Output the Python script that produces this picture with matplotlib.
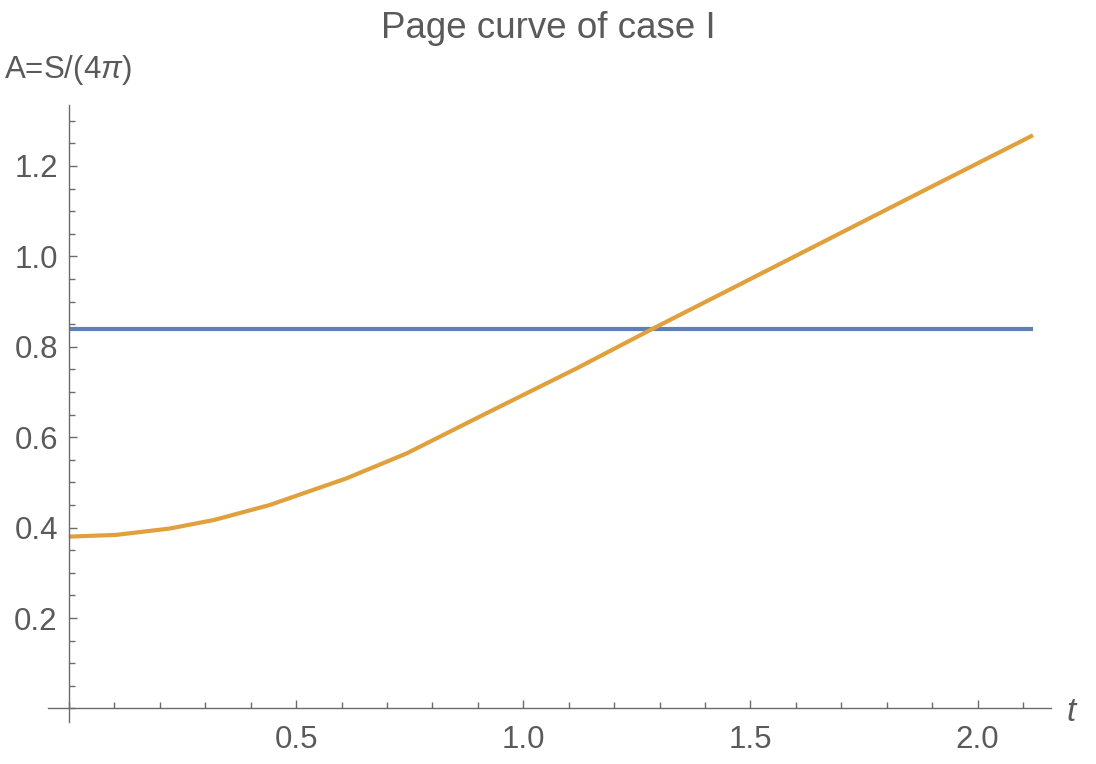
import matplotlib
matplotlib.use("Agg")
import matplotlib.pyplot as plt
from matplotlib.ticker import MultipleLocator, FixedLocator

plt.rcParams['font.family'] = ['Liberation Sans', 'DejaVu Sans']
plt.rcParams['mathtext.fontset'] = 'custom'
plt.rcParams['mathtext.rm'] = 'Liberation Sans'
plt.rcParams['mathtext.it'] = 'Liberation Sans:italic'

# Page curve data
t_page = [0.0, 0.105, 0.222, 0.32, 0.442, 0.611, 0.743, 0.911, 1.117, 1.283, 1.50, 1.697, 1.90, 2.122]
a_page = [0.380, 0.384, 0.398, 0.417, 0.450, 0.509, 0.564, 0.649, 0.752, 0.839, 0.950, 1.051, 1.155, 1.268]

# constant (Hawking/island) line
t_flat = [0.0, 2.122]
a_flat = [0.839, 0.839]

x_ticks = [0.5, 1.0, 1.5, 2.0]
y_ticks = [0.2, 0.4, 0.6, 0.8, 1.0, 1.2]

gray = '#5a5a5a'
axis_gray = '#6b6b6b'

fig = plt.figure(figsize=(10.96, 7.64), dpi=100)
ax = fig.add_axes([0.0438, 0.055, 0.9149, 0.8076])

ax.plot(t_flat, a_flat, color='#5e81b5', lw=3.0, solid_capstyle='butt')
ax.plot(t_page, a_page, color='#e0a03c', lw=3.0, solid_capstyle='butt')

ax.set_xlim(-0.046, 2.161)
ax.set_ylim(-0.03, 1.335)

for s in ['top', 'right']:
    ax.spines[s].set_visible(False)
ax.spines['left'].set_position(('data', 0))
ax.spines['bottom'].set_position(('data', 0))
for s in ['left', 'bottom']:
    ax.spines[s].set_color(axis_gray)
    ax.spines[s].set_linewidth(1.0)

ax.xaxis.set_major_locator(FixedLocator(x_ticks))
ax.xaxis.set_minor_locator(MultipleLocator(0.1))
ax.yaxis.set_major_locator(FixedLocator(y_ticks))
ax.yaxis.set_minor_locator(MultipleLocator(0.05))

ax.tick_params(axis='x', which='major', direction='in', length=6, width=1, color=axis_gray,
               labelsize=22.5, labelcolor=gray, pad=12)
ax.tick_params(axis='x', which='minor', direction='in', length=4, width=1, color=axis_gray)
ax.tick_params(axis='y', which='major', direction='in', length=6, width=1, color=axis_gray,
               labelsize=22.5, labelcolor=gray, pad=8)
ax.tick_params(axis='y', which='minor', direction='in', length=4, width=1, color=axis_gray)
ax.set_xticklabels(['0.5', '1.0', '1.5', '2.0'])
ax.set_yticklabels(['0.2', '0.4', '0.6', '0.8', '1.0', '1.2'])

fig.text(0.5, 0.963, 'Page curve of case I', ha='center', va='center', fontsize=26.5, color=gray)
fig.text(0.004, 0.908, r'A=S/(4$\pi$)', ha='left', va='center', fontsize=22.5, color=gray)
fig.text(0.978, 0.068, r'$t$', ha='center', va='center', fontsize=24, color=gray)

fig.savefig('out.png', dpi=100, facecolor='white')
